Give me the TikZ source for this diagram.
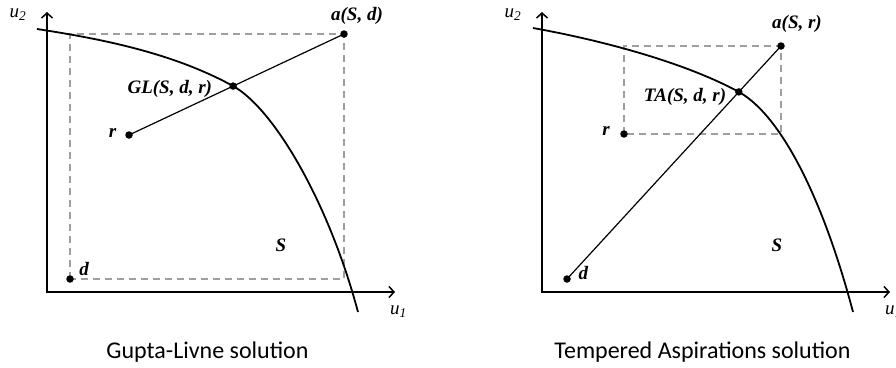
\documentclass[tikz,border=0pt]{standalone}
\usepackage{fontspec}
\setmainfont{Liberation Serif}
\newfontfamily\capfont{Carlito}
\usetikzlibrary{arrows.meta,intersections,positioning}

\tikzset{
  axis/.style={line width=1.8pt,
    {Straight Barb[length=5pt,width=11pt,line width=1.5pt]}-{Straight Barb[length=5pt,width=11pt,line width=1.5pt]}},
  frontier/.style={line width=1.8pt},
  guide/.style={draw=gray!75, dash pattern=on 7pt off 5pt, line width=1.4pt},
  ray/.style={line width=1.2pt},
  dot/.style={circle, fill, inner sep=0pt, minimum size=7.5pt},
  lbl/.style={font=\fontsize{19}{22}\selectfont\bfseries\itshape, inner sep=1pt},
  axlbl/.style={font=\fontsize{19}{22}\selectfont\itshape, inner sep=0pt},
  caption/.style={font=\capfont\fontsize{24}{28}\selectfont, inner sep=0pt},
}

\begin{document}
\begin{tikzpicture}[x=1pt, y=-1pt]
  \useasboundingbox (0,0) rectangle (896,367);
  % axes and captions, both panels
  \foreach \sx/\cap in {0/Gupta-Livne solution, 495/Tempered Aspirations solution}{
    \begin{scope}[shift={(\sx,0)}]
      \coordinate (ytip) at (47,12);
      \coordinate (orig) at (47,292);
      \coordinate (xtip) at (395,292);
      \draw[axis] (ytip) -- (orig) -- (xtip);
      \node[axlbl] (ulab2) at (18,15) {u\textsubscript{\textit{2}}};
      \node[axlbl, anchor=west] (ulab1) at (390,312) {u\textsubscript{\textit{1}}};
      \node[caption, anchor=base] (cap) at (207.5,358) {\cap};
    \end{scope}
  }
  % Gupta-Livne
  \coordinate (dL) at (70,279);
  \coordinate (rL) at (129,135);
  \coordinate (aL) at (344,34);
  \draw[guide] (dL) rectangle (aL);
  \draw[frontier, name path=frontL] (37,29) .. controls (102,39) and (173,53) .. (233,86)
    .. controls (273,108) and (328,200) .. (358,312);
  \draw[ray, name path=rayL] (rL) -- (aL);
  \path[name intersections={of=frontL and rayL, by=gL}];
  \node[dot] (dLdot) at (dL) {};
  \node[dot] (rLdot) at (rL) {};
  \node[dot] (aLdot) at (aL) {};
  \node[dot] (gLdot) at (gL) {};
  \node[lbl, above right=-1pt and 5.5pt of dLdot] (dLlab) {d};
  \node[lbl, left=7.5pt of rLdot, yshift=2pt] (rLlab) {r};
  \node[lbl, above=4pt of aLdot, xshift=13pt] (aLlab) {a(S, d)};
  \node[lbl, left=16pt of gLdot, yshift=-2.5pt] (gLlab) {GL(S, d, r)};
  \node[lbl] (sL) at (281,245) {S};
  % Tempered Aspirations
  \coordinate (dR) at (567,279);
  \coordinate (rR) at (624,134);
  \coordinate (aR) at (781,46);
  \draw[guide] (rR) rectangle (aR);
  \draw[frontier, name path=frontR] (533,28) .. controls (600,40) and (684,62) .. (739,92)
    .. controls (780,115) and (822,195) .. (853,312);
  \draw[ray, name path=rayR] (dR) -- (aR);
  \path[name intersections={of=frontR and rayR, by=gR}];
  \node[dot] (dRdot) at (dR) {};
  \node[dot] (rRdot) at (rR) {};
  \node[dot] (aRdot) at (aR) {};
  \node[dot] (gRdot) at (gR) {};
  \node[lbl, above right=-4.5pt and 7.5pt of dRdot] (dRlab) {d};
  \node[lbl, left=9pt of rRdot, yshift=3pt] (rRlab) {r};
  \node[lbl, above=8pt of aRdot, xshift=16pt] (aRlab) {a(S, r)};
  \node[lbl, left=7.5pt of gRdot, yshift=-5.5pt] (gRlab) {TA(S, d, r)};
  \node[lbl] (sR) at (777,245) {S};
\end{tikzpicture}
\end{document}
